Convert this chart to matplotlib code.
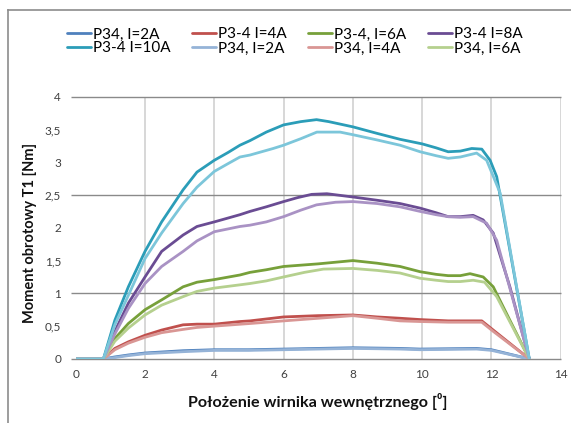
import matplotlib
matplotlib.use("Agg")
import matplotlib.pyplot as plt
from matplotlib.lines import Line2D

plt.rcParams['font.family'] = ['Lato', 'DejaVu Sans']

# ---- data ----
x_teal = [0, 0.8, 1.13, 1.52, 2.0, 2.48, 3.1, 3.5, 4.0, 4.4, 4.74, 5.03, 5.5, 6.0, 6.5, 6.95, 7.3, 8.0, 8.7, 9.36, 10.0, 10.4, 10.75, 11.1, 11.43, 11.72, 11.96, 12.15, 12.53, 13.09]
y_teal = [0, 0, 0.59, 1.10, 1.64, 2.09, 2.58, 2.85, 3.03, 3.15, 3.26, 3.33, 3.46, 3.57, 3.62, 3.65, 3.62, 3.54, 3.44, 3.35, 3.28, 3.22, 3.16, 3.17, 3.21, 3.20, 3.03, 2.78, 1.66, 0]

x_lteal = [0, 0.8, 1.13, 1.52, 2.0, 2.48, 3.1, 3.5, 4.0, 4.4, 4.74, 5.03, 5.7, 6.0, 6.5, 6.96, 7.63, 8.0, 8.7, 9.36, 9.94, 10.4, 10.75, 11.1, 11.57, 11.86, 12.25, 13.09]
y_lteal = [0, 0, 0.52, 0.97, 1.53, 1.92, 2.37, 2.62, 2.86, 2.98, 3.08, 3.11, 3.21, 3.26, 3.36, 3.46, 3.46, 3.42, 3.34, 3.26, 3.16, 3.10, 3.06, 3.08, 3.14, 3.03, 2.53, 0]

x_purple = [0, 0.8, 1.13, 1.52, 2.0, 2.48, 3.1, 3.5, 4.0, 4.74, 5.03, 5.5, 6.0, 6.4, 6.81, 7.25, 8.0, 8.7, 9.36, 9.94, 10.4, 10.75, 11.1, 11.47, 11.76, 12.05, 12.53, 13.09]
y_purple = [0, 0, 0.42, 0.85, 1.25, 1.64, 1.89, 2.02, 2.09, 2.2, 2.25, 2.32, 2.40, 2.46, 2.51, 2.52, 2.47, 2.42, 2.37, 2.30, 2.23, 2.17, 2.17, 2.19, 2.12, 1.92, 1.10, 0]

x_lpurple = [0, 0.8, 1.13, 1.52, 2.0, 2.48, 3.1, 3.5, 4.0, 4.74, 5.03, 5.5, 6.0, 6.5, 6.95, 7.5, 8.0, 8.7, 9.36, 9.94, 10.4, 10.75, 11.1, 11.47, 11.86, 12.15, 13.09]
y_lpurple = [0, 0, 0.38, 0.77, 1.15, 1.41, 1.64, 1.80, 1.94, 2.02, 2.04, 2.09, 2.17, 2.27, 2.35, 2.39, 2.40, 2.37, 2.32, 2.25, 2.20, 2.17, 2.16, 2.17, 2.07, 1.81, 0]

x_green = [0, 0.8, 1.13, 1.52, 2.0, 2.48, 3.1, 3.5, 4.0, 4.74, 5.03, 5.5, 6.0, 7.0, 8.0, 8.7, 9.36, 9.94, 10.4, 10.75, 11.1, 11.38, 11.76, 12.05, 12.53, 13.09]
y_green = [0, 0, 0.31, 0.54, 0.75, 0.90, 1.10, 1.17, 1.21, 1.28, 1.32, 1.36, 1.41, 1.45, 1.50, 1.46, 1.41, 1.33, 1.29, 1.27, 1.27, 1.30, 1.25, 1.10, 0.59, 0]

x_lgreen = [0, 0.8, 1.13, 1.52, 2.0, 2.48, 3.1, 3.5, 4.0, 4.74, 5.03, 5.5, 6.0, 6.6, 7.15, 8.0, 8.7, 9.36, 9.94, 10.4, 10.75, 11.1, 11.47, 11.8, 12.15, 13.09]
y_lgreen = [0, 0, 0.27, 0.47, 0.67, 0.82, 0.95, 1.03, 1.08, 1.13, 1.15, 1.19, 1.25, 1.32, 1.37, 1.38, 1.35, 1.31, 1.23, 1.20, 1.18, 1.18, 1.20, 1.17, 0.95, 0]

x_red = [0, 0.8, 1.13, 1.52, 2.0, 2.48, 3.1, 3.5, 4.0, 4.74, 5.03, 6.0, 7.0, 8.0, 8.7, 9.36, 9.94, 10.75, 11.72, 12.05, 13.09]
y_red = [0, 0, 0.16, 0.26, 0.36, 0.44, 0.52, 0.53, 0.53, 0.57, 0.58, 0.64, 0.66, 0.67, 0.64, 0.62, 0.60, 0.58, 0.58, 0.44, 0]

x_lred = [0, 0.8, 1.13, 1.52, 2.0, 2.48, 3.1, 3.5, 4.0, 5.03, 6.0, 7.0, 8.0, 8.7, 9.36, 9.94, 10.75, 11.72, 12.05, 13.09]
y_lred = [0, 0, 0.14, 0.24, 0.33, 0.40, 0.45, 0.48, 0.50, 0.54, 0.58, 0.62, 0.66, 0.62, 0.58, 0.57, 0.56, 0.56, 0.42, 0]

x_blue = [0, 0.8, 1.13, 1.52, 2.0, 3.1, 4.0, 5.0, 6.0, 7.0, 8.0, 9.36, 9.94, 11.57, 12.0, 13.09]
y_blue = [0, 0, 0.03, 0.06, 0.09, 0.125, 0.14, 0.14, 0.15, 0.16, 0.17, 0.16, 0.15, 0.16, 0.14, 0]

x_lblue = [0, 0.8, 1.13, 1.52, 2.0, 3.1, 4.0, 5.0, 6.0, 7.0, 8.0, 9.36, 9.94, 11.57, 12.0, 13.09]
y_lblue = [0, 0, 0.02, 0.05, 0.08, 0.11, 0.13, 0.13, 0.14, 0.15, 0.16, 0.15, 0.14, 0.15, 0.13, 0]

labels = ["P34, I=2A", "P3-4 I=4A", "P3-4, I=6A", "P3-4 I=8A",
          "P3-4 I=10A", "P34, I=2A", "P34, I=4A", "P34, I=6A"]

x_ticks = [0, 2, 4, 6, 8, 10, 12, 14]
y_ticks = [0, 0.5, 1, 1.5, 2, 2.5, 3, 3.5, 4]
y_tick_labels = ["0", "0,5", "1", "1,5", "2", "2,5", "3", "3,5", "4"]
y_grid = [1, 2.5, 4]

# ---- figure ----
W, H = 571, 423
fig = plt.figure(figsize=(W / 100, H / 100), dpi=100)
ax = fig.add_axes([75.7 / W, 1 - 358.9 / H, (560.8 - 75.7) / W, (358.9 - 96.7) / H])

# figure frame (top and left)
fig.add_artist(Line2D([8 / W, 8 / W], [0, 1 - 10 / H], transform=fig.transFigure, color="#8c8c8c", lw=1.2))
fig.add_artist(Line2D([8 / W, 1], [1 - 10 / H, 1 - 10 / H], transform=fig.transFigure, color="#8c8c8c", lw=1.2))

# grid
for xv in x_ticks[1:]:
    ax.axvline(xv, color="#d4d4d4", lw=1.3, zorder=0)
ax.hlines(y_grid + [0], -0.15, 14, colors="#8a8a8a", lw=1.0, clip_on=False, zorder=1)

series = [
    (x_blue, y_blue, "#4F81BD", labels[0]),
    (x_red, y_red, "#C0504D", labels[1]),
    (x_green, y_green, "#77A03A", labels[2]),
    (x_purple, y_purple, "#6A4C93", labels[3]),
    (x_teal, y_teal, "#2B9DB8", labels[4]),
    (x_lblue, y_lblue, "#95B3D7", labels[5]),
    (x_lred, y_lred, "#D99694", labels[6]),
    (x_lgreen, y_lgreen, "#B5D08E", labels[7]),
    (x_lpurple, y_lpurple, "#A992C4", "_nolegend_"),
    (x_lteal, y_lteal, "#7CC6DA", "_nolegend_"),
]
for xs, ys, c, lab in series:
    ax.plot(xs, ys, color=c, lw=2.0, label=lab, zorder=3,
            solid_joinstyle="round", solid_capstyle="round")

ax.set_xlim(0, 14)
ax.set_ylim(0, 4)
ax.set_xticks(x_ticks)
ax.set_xticklabels([str(v) for v in x_ticks])
ax.set_yticks(y_ticks)
ax.set_yticklabels(y_tick_labels)
ax.tick_params(axis="both", length=0, labelsize=8.5, colors="#404040")
ax.tick_params(axis="y", pad=10.5)
ax.tick_params(axis="x", pad=7)
for s in ax.spines.values():
    s.set_visible(False)

ax.set_xlabel("Położenie wirnika wewnętrznego [⁰]", fontsize=11.6, fontweight="bold", color="#111111")
ax.xaxis.set_label_coords(0.5, -0.13)
ax.set_ylabel("Moment obrotowy T1 [Nm]", fontsize=10.5, fontweight="bold", color="#111111")
ax.yaxis.set_label_coords(-0.08, 0.48)

handles, labs = ax.get_legend_handles_labels()
# legend is filled column-wise; reorder so it reads row-wise
order = [0, 4, 1, 5, 2, 6, 3, 7]
fig.legend([handles[i] for i in order], [labs[i] for i in order], loc="center",
           bbox_to_anchor=(0.516, 1 - 41.5 / H), ncol=4,
           frameon=False, fontsize=11, handlelength=1.6, handletextpad=0.1,
           columnspacing=1.4, labelspacing=0.0, borderpad=0.0)

fig.savefig("out.png", dpi=100)
